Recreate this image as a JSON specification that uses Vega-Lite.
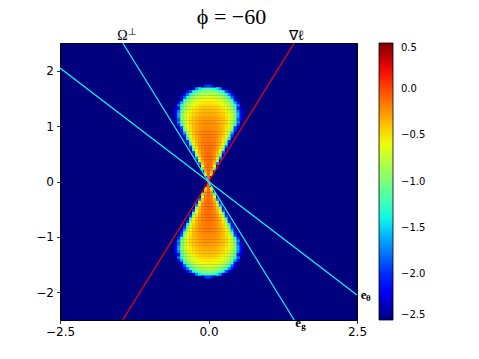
{
  "$schema": "https://vega.github.io/schema/vega-lite/v6.json",
  "width": 297,
  "height": 277,
  "autosize": {"type": "none"},
  "padding": {"left": 60, "top": 43, "right": 122, "bottom": 39},
  "background": "white",
  "title": {"text": "ϕ = −60", "font": "Liberation Serif", "fontSize": 22, "fontWeight": "normal", "color": "black", "anchor": "middle", "dx": 23, "offset": -2},
  "config": {
    "view": {"fill": "#00007f", "stroke": "black", "strokeWidth": 1},
    "axis": {"grid": false, "domain": false, "tickSize": 3.5, "tickColor": "black", "tickWidth": 0.8, "labelFont": "DejaVu Sans", "labelFontSize": 12, "labelColor": "black", "labelFlush": false, "labelPadding": 3, "title": null}
  },
  "datasets": {
    "cells": [
      {"yu": 0.025, "yl": -0.025, "x": [0], "v": [-0.1]},
      {"yu": 0.075, "yl": -0.075, "x": [0], "v": [-0.1]},
      {"yu": 0.125, "yl": -0.125, "x": [-0.05,0,0.05], "v": [-0.73,-0.1,-0.73]},
      {"yu": 0.175, "yl": -0.175, "x": [-0.05,0,0.05], "v": [-0.33,-0.1,-0.33]},
      {"yu": 0.225, "yl": -0.225, "x": [-0.1,-0.05,0,0.05,0.1], "v": [-1.22,-0.22,-0.1,-0.22,-1.22]},
      {"yu": 0.275, "yl": -0.275, "x": [-0.1,-0.05,0,0.05,0.1], "v": [-0.56,-0.18,-0.1,-0.18,-0.56]},
      {"yu": 0.325, "yl": -0.325, "x": [-0.15,-0.1,-0.05,0,0.05,0.1,0.15], "v": [-1.79,-0.38,-0.15,-0.1,-0.15,-0.38,-1.79]},
      {"yu": 0.375, "yl": -0.375, "x": [-0.2,-0.15,-0.1,-0.05,0,0.05,0.1,0.15,0.2], "v": [-2.3,-0.75,-0.3,-0.14,-0.1,-0.14,-0.3,-0.75,-2.3]},
      {"yu": 0.425, "yl": -0.425, "x": [-0.2,-0.15,-0.1,-0.05,0,0.05,0.1,0.15,0.2], "v": [-1.7,-0.52,-0.25,-0.14,-0.11,-0.14,-0.25,-0.52,-1.7]},
      {"yu": 0.475, "yl": -0.475, "x": [-0.25,-0.2,-0.15,-0.1,-0.05,0,0.05,0.1,0.15,0.2,0.25], "v": [-2.3,-0.92,-0.41,-0.22,-0.14,-0.11,-0.14,-0.22,-0.41,-0.92,-2.3]},
      {"yu": 0.525, "yl": -0.525, "x": [-0.25,-0.2,-0.15,-0.1,-0.05,0,0.05,0.1,0.15,0.2,0.25], "v": [-1.9,-0.65,-0.34,-0.21,-0.14,-0.11,-0.14,-0.21,-0.34,-0.65,-1.9]},
      {"yu": 0.575, "yl": -0.575, "x": [-0.3,-0.25,-0.2,-0.15,-0.1,-0.05,0,0.05,0.1,0.15,0.2,0.25,0.3], "v": [-2.3,-1.09,-0.52,-0.3,-0.19,-0.14,-0.11,-0.14,-0.19,-0.3,-0.52,-1.09,-2.3]},
      {"yu": 0.625, "yl": -0.625, "x": [-0.3,-0.25,-0.2,-0.15,-0.1,-0.05,0,0.05,0.1,0.15,0.2,0.25,0.3], "v": [-1.9,-0.76,-0.44,-0.27,-0.18,-0.14,-0.13,-0.14,-0.18,-0.27,-0.44,-0.76,-1.9]},
      {"yu": 0.675, "yl": -0.675, "x": [-0.35,-0.3,-0.25,-0.2,-0.15,-0.1,-0.05,0,0.05,0.1,0.15,0.2,0.25,0.3,0.35], "v": [-2.3,-1.25,-0.61,-0.38,-0.26,-0.18,-0.14,-0.13,-0.14,-0.18,-0.26,-0.38,-0.61,-1.25,-2.3]},
      {"yu": 0.725, "yl": -0.725, "x": [-0.35,-0.3,-0.25,-0.2,-0.15,-0.1,-0.05,0,0.05,0.1,0.15,0.2,0.25,0.3,0.35], "v": [-2.0,-0.88,-0.52,-0.34,-0.25,-0.18,-0.15,-0.14,-0.15,-0.18,-0.25,-0.34,-0.52,-0.88,-2.0]},
      {"yu": 0.775, "yl": -0.775, "x": [-0.4,-0.35,-0.3,-0.25,-0.2,-0.15,-0.1,-0.05,0,0.05,0.1,0.15,0.2,0.25,0.3,0.35,0.4], "v": [-2.3,-1.42,-0.71,-0.46,-0.33,-0.24,-0.18,-0.15,-0.14,-0.15,-0.18,-0.24,-0.33,-0.46,-0.71,-1.42,-2.3]},
      {"yu": 0.825, "yl": -0.825, "x": [-0.4,-0.35,-0.3,-0.25,-0.2,-0.15,-0.1,-0.05,0,0.05,0.1,0.15,0.2,0.25,0.3,0.35,0.4], "v": [-2.0,-1.0,-0.61,-0.42,-0.32,-0.24,-0.2,-0.17,-0.15,-0.17,-0.2,-0.24,-0.32,-0.42,-0.61,-1.0,-2.0]},
      {"yu": 0.875, "yl": -0.875, "x": [-0.45,-0.4,-0.35,-0.3,-0.25,-0.2,-0.15,-0.1,-0.05,0,0.05,0.1,0.15,0.2,0.25,0.3,0.35,0.4,0.45], "v": [-2.3,-1.63,-0.82,-0.55,-0.4,-0.3,-0.24,-0.2,-0.18,-0.17,-0.18,-0.2,-0.24,-0.3,-0.4,-0.55,-0.82,-1.63,-2.3]},
      {"yu": 0.925, "yl": -0.925, "x": [-0.45,-0.4,-0.35,-0.3,-0.25,-0.2,-0.15,-0.1,-0.05,0,0.05,0.1,0.15,0.2,0.25,0.3,0.35,0.4,0.45], "v": [-2.0,-1.11,-0.71,-0.5,-0.38,-0.3,-0.25,-0.21,-0.2,-0.18,-0.2,-0.21,-0.25,-0.3,-0.38,-0.5,-0.71,-1.11,-2.0]},
      {"yu": 0.975, "yl": -0.975, "x": [-0.5,-0.45,-0.4,-0.35,-0.3,-0.25,-0.2,-0.15,-0.1,-0.05,0,0.05,0.1,0.15,0.2,0.25,0.3,0.35,0.4,0.45,0.5], "v": [-2.3,-1.88,-0.9,-0.64,-0.48,-0.37,-0.3,-0.25,-0.22,-0.21,-0.2,-0.21,-0.22,-0.25,-0.3,-0.37,-0.48,-0.64,-0.9,-1.88,-2.3]},
      {"yu": 1.025, "yl": -1.025, "x": [-0.5,-0.45,-0.4,-0.35,-0.3,-0.25,-0.2,-0.15,-0.1,-0.05,0,0.05,0.1,0.15,0.2,0.25,0.3,0.35,0.4,0.45,0.5], "v": [-2.0,-1.25,-0.8,-0.59,-0.46,-0.37,-0.32,-0.26,-0.24,-0.22,-0.22,-0.22,-0.24,-0.26,-0.32,-0.37,-0.46,-0.59,-0.8,-1.25,-2.0]},
      {"yu": 1.075, "yl": -1.075, "x": [-0.5,-0.45,-0.4,-0.35,-0.3,-0.25,-0.2,-0.15,-0.1,-0.05,0,0.05,0.1,0.15,0.2,0.25,0.3,0.35,0.4,0.45,0.5], "v": [-1.7,-1.07,-0.75,-0.57,-0.46,-0.38,-0.33,-0.29,-0.26,-0.24,-0.24,-0.24,-0.26,-0.29,-0.33,-0.38,-0.46,-0.57,-0.75,-1.07,-1.7]},
      {"yu": 1.125, "yl": -1.125, "x": [-0.55,-0.5,-0.45,-0.4,-0.35,-0.3,-0.25,-0.2,-0.15,-0.1,-0.05,0,0.05,0.1,0.15,0.2,0.25,0.3,0.35,0.4,0.45,0.5,0.55], "v": [-2.2,-1.83,-1.0,-0.73,-0.57,-0.46,-0.4,-0.34,-0.3,-0.28,-0.26,-0.26,-0.26,-0.28,-0.3,-0.34,-0.4,-0.46,-0.57,-0.73,-1.0,-1.83,-2.2]},
      {"yu": 1.175, "yl": -1.175, "x": [-0.55,-0.5,-0.45,-0.4,-0.35,-0.3,-0.25,-0.2,-0.15,-0.1,-0.05,0,0.05,0.1,0.15,0.2,0.25,0.3,0.35,0.4,0.45,0.5,0.55], "v": [-2.2,-1.63,-1.0,-0.73,-0.59,-0.49,-0.41,-0.37,-0.33,-0.3,-0.29,-0.29,-0.29,-0.3,-0.33,-0.37,-0.41,-0.49,-0.59,-0.73,-1.0,-1.63,-2.2]},
      {"yu": 1.225, "yl": -1.225, "x": [-0.55,-0.5,-0.45,-0.4,-0.35,-0.3,-0.25,-0.2,-0.15,-0.1,-0.05,0,0.05,0.1,0.15,0.2,0.25,0.3,0.35,0.4,0.45,0.5,0.55], "v": [-2.2,-1.6,-1.0,-0.76,-0.61,-0.52,-0.45,-0.4,-0.36,-0.33,-0.32,-0.32,-0.32,-0.33,-0.36,-0.4,-0.45,-0.52,-0.61,-0.76,-1.0,-1.6,-2.2]},
      {"yu": 1.275, "yl": -1.275, "x": [-0.55,-0.5,-0.45,-0.4,-0.35,-0.3,-0.25,-0.2,-0.15,-0.1,-0.05,0,0.05,0.1,0.15,0.2,0.25,0.3,0.35,0.4,0.45,0.5,0.55], "v": [-2.2,-1.73,-1.09,-0.82,-0.65,-0.56,-0.48,-0.44,-0.4,-0.37,-0.36,-0.36,-0.36,-0.37,-0.4,-0.44,-0.48,-0.56,-0.65,-0.82,-1.09,-1.73,-2.2]},
      {"yu": 1.325, "yl": -1.325, "x": [-0.55,-0.5,-0.45,-0.4,-0.35,-0.3,-0.25,-0.2,-0.15,-0.1,-0.05,0,0.05,0.1,0.15,0.2,0.25,0.3,0.35,0.4,0.45,0.5,0.55], "v": [-2.3,-2.08,-1.15,-0.87,-0.71,-0.6,-0.53,-0.48,-0.44,-0.41,-0.4,-0.4,-0.4,-0.41,-0.44,-0.48,-0.53,-0.6,-0.71,-0.87,-1.15,-2.08,-2.3]},
      {"yu": 1.375, "yl": -1.375, "x": [-0.5,-0.45,-0.4,-0.35,-0.3,-0.25,-0.2,-0.15,-0.1,-0.05,0,0.05,0.1,0.15,0.2,0.25,0.3,0.35,0.4,0.45,0.5], "v": [-1.8,-1.3,-0.96,-0.79,-0.67,-0.59,-0.53,-0.49,-0.46,-0.45,-0.44,-0.45,-0.46,-0.49,-0.53,-0.59,-0.67,-0.79,-0.96,-1.3,-1.8]},
      {"yu": 1.425, "yl": -1.425, "x": [-0.5,-0.45,-0.4,-0.35,-0.3,-0.25,-0.2,-0.15,-0.1,-0.05,0,0.05,0.1,0.15,0.2,0.25,0.3,0.35,0.4,0.45,0.5], "v": [-2.1,-1.6,-1.1,-0.88,-0.75,-0.65,-0.6,-0.55,-0.52,-0.5,-0.5,-0.5,-0.52,-0.55,-0.6,-0.65,-0.75,-0.88,-1.1,-1.6,-2.1]},
      {"yu": 1.475, "yl": -1.475, "x": [-0.45,-0.4,-0.35,-0.3,-0.25,-0.2,-0.15,-0.1,-0.05,0,0.05,0.1,0.15,0.2,0.25,0.3,0.35,0.4,0.45], "v": [-2.3,-1.33,-1.02,-0.86,-0.75,-0.68,-0.63,-0.6,-0.57,-0.57,-0.57,-0.6,-0.63,-0.68,-0.75,-0.86,-1.02,-1.33,-2.3]},
      {"yu": 1.525, "yl": -1.525, "x": [-0.45,-0.4,-0.35,-0.3,-0.25,-0.2,-0.15,-0.1,-0.05,0,0.05,0.1,0.15,0.2,0.25,0.3,0.35,0.4,0.45], "v": [-2.2,-1.83,-1.25,-1.02,-0.88,-0.79,-0.72,-0.69,-0.67,-0.65,-0.67,-0.69,-0.72,-0.79,-0.88,-1.02,-1.25,-1.83,-2.2]},
      {"yu": 1.575, "yl": -1.575, "x": [-0.4,-0.35,-0.3,-0.25,-0.2,-0.15,-0.1,-0.05,0,0.05,0.1,0.15,0.2,0.25,0.3,0.35,0.4], "v": [-2.1,-1.72,-1.26,-1.06,-0.94,-0.87,-0.82,-0.79,-0.78,-0.79,-0.82,-0.87,-0.94,-1.06,-1.26,-1.72,-2.1]},
      {"yu": 1.625, "yl": -1.625, "x": [-0.35,-0.3,-0.25,-0.2,-0.15,-0.1,-0.05,0,0.05,0.1,0.15,0.2,0.25,0.3,0.35], "v": [-2.2,-1.88,-1.38,-1.18,-1.06,-0.99,-0.95,-0.94,-0.95,-0.99,-1.06,-1.18,-1.38,-1.88,-2.2]},
      {"yu": 1.675, "yl": -1.675, "x": [-0.25,-0.2,-0.15,-0.1,-0.05,0,0.05,0.1,0.15,0.2,0.25], "v": [-2.3,-1.71,-1.44,-1.3,-1.23,-1.21,-1.23,-1.3,-1.44,-1.71,-2.3]},
      {"yu": 1.725, "yl": -1.725, "x": [-0.1,-0.05,0,0.05,0.1], "v": [-2.46,-2.02,-1.94,-2.02,-2.46]}
    ],
    "lines": [
      {"name": "grad", "c": "red", "x": -1.443, "y": -2.5},
      {"name": "grad", "c": "red", "x": 1.443, "y": 2.5},
      {"name": "g", "c": "cyan", "x": -1.443, "y": 2.5},
      {"name": "g", "c": "cyan", "x": 1.443, "y": -2.5},
      {"name": "theta", "c": "cyan", "x": -2.5, "y": 2.05},
      {"name": "theta", "c": "cyan", "x": 2.5, "y": -2.05}
    ],
    "labels": [
      {"kind": "main", "t": "Ω", "x": -1.447, "y": 2.55},
      {"kind": "main", "t": "∇ℓ", "x": 1.48, "y": 2.55},
      {"kind": "sup", "t": "⊥", "x": -1.28, "y": 2.64},
      {"kind": "bold", "t": "e", "x": 2.61, "y": -2.12},
      {"kind": "bold", "t": "e", "x": 1.507, "y": -2.635},
      {"kind": "sub", "t": "θ", "x": 2.69, "y": -2.166},
      {"kind": "sub", "t": "g", "x": 1.6, "y": -2.66}
    ]
  },
  "encoding": {
    "x": {"field": "x", "type": "quantitative", "scale": {"domain": [-2.5, 2.5], "nice": false, "zero": false},
          "axis": {"values": [-2.5, 0, 2.5], "labelExpr": "replace(format(datum.value, '.1f'), '-', '−')"}},
    "y": {"field": "y", "type": "quantitative", "scale": {"domain": [-2.5, 2.5], "nice": false, "zero": false},
          "axis": {"values": [-2, -1, 0, 1, 2], "labelExpr": "replace(format(datum.value, 'd'), '-', '−')"}}
  },
  "layer": [
    {
      "data": {"name": "cells"},
      "transform": [{"flatten": ["x", "v"]}, {"fold": ["yu", "yl"], "as": ["lobe", "y"]}],
      "mark": {"type": "rect", "width": 3.2, "height": 3.0, "strokeWidth": 0},
      "encoding": {
        "color": {"field": "v", "type": "quantitative",
          "scale": {"domain": [-2.5, -2.17, -2.125, -1.48, -1.45, -1.375, -0.58, -0.55, -0.52, 0.17, 0.23, 0.5],
                    "range": ["#000080", "#0000ff", "#0000ff", "#00dbff", "#00e6f7", "#15ffe2", "#eeff08", "#f7f500", "#ffec00", "#ff1300", "#e80000", "#800000"],
                    "interpolate": "rgb", "clamp": true},
          "legend": {"title": null, "orient": "right", "offset": 19, "padding": 0, "gradientLength": 277, "gradientThickness": 14,
                     "values": [-2.5, -2, -1.5, -1, -0.5, 0, 0.5], "labelExpr": "replace(format(datum.value, '.1f'), '-', '−')",
                     "labelFont": "DejaVu Sans", "labelFontSize": 10, "labelColor": "black", "labelOffset": 8, "labelOverlap": false,
                     "gradientStrokeColor": "black", "gradientStrokeWidth": 0.8}}
      }
    },
    {
      "data": {"name": "lines"},
      "transform": [{"filter": "datum.c == 'red'"}],
      "mark": {"type": "line", "color": "#ff0000", "strokeWidth": 1.2},
      "encoding": {"detail": {"field": "name"}}
    },
    {
      "data": {"name": "lines"},
      "transform": [{"filter": "datum.c == 'cyan'"}],
      "mark": {"type": "line", "color": "#00ffff", "strokeWidth": 1.2},
      "encoding": {"detail": {"field": "name"}}
    },
    {
      "data": {"name": "labels"},
      "transform": [{"filter": "datum.kind == 'main'"}],
      "mark": {"type": "text", "font": "Liberation Serif", "fontSize": 14, "color": "black", "align": "center", "baseline": "alphabetic"},
      "encoding": {"text": {"field": "t"}}
    },
    {
      "data": {"name": "labels"},
      "transform": [{"filter": "datum.kind == 'sup'"}],
      "mark": {"type": "text", "font": "Liberation Serif", "fontSize": 10, "color": "black", "align": "center", "baseline": "alphabetic"},
      "encoding": {"text": {"field": "t"}}
    },
    {
      "data": {"name": "labels"},
      "transform": [{"filter": "datum.kind == 'bold'"}],
      "mark": {"type": "text", "font": "Liberation Serif", "fontSize": 13, "fontWeight": "bold", "color": "black", "align": "center", "baseline": "alphabetic"},
      "encoding": {"text": {"field": "t"}}
    },
    {
      "data": {"name": "labels"},
      "transform": [{"filter": "datum.kind == 'sub'"}],
      "mark": {"type": "text", "font": "Liberation Serif", "fontSize": 9, "fontWeight": "bold", "color": "black", "align": "center", "baseline": "alphabetic"},
      "encoding": {"text": {"field": "t"}}
    }
  ]
}
